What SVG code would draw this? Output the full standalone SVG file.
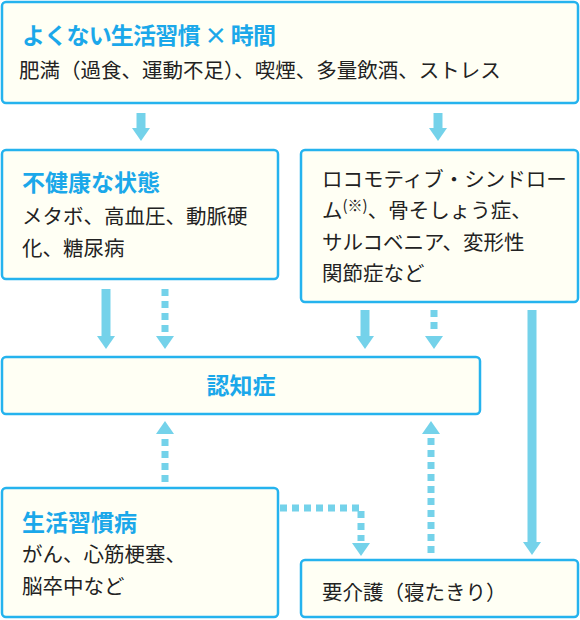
<svg xmlns="http://www.w3.org/2000/svg" width="580" height="620" viewBox="0 0 580 620">
<defs>
<style>
.box{fill:#fffff4;stroke:#25b3ee;stroke-width:2.5}
.ttl{font-family:"Noto Sans CJK JP","Noto Sans",sans-serif;font-weight:bold;font-size:23px;fill:#1ba8ea}
.txt{font-family:"Noto Sans CJK JP","Noto Sans",sans-serif;font-size:20.5px;fill:#222}
.sol{stroke:#74d2ea;stroke-width:9;fill:none}
.dot{stroke:#74d2ea;stroke-width:7;fill:none;stroke-dasharray:7 5}
.hd{fill:#74d2ea}
</style>
</defs>
<g id="top">
<rect class="box" x="2" y="2" width="576" height="101" rx="4"/>
<text class="ttl" x="22" y="44" textLength="254" lengthAdjust="spacing">よくない生活習慣 × 時間</text>
<text class="txt" x="19" y="78">肥満（過食、運動不足）、喫煙、多量飲酒、ストレス</text>
</g>
<g id="unhealthy">
<rect class="box" x="2" y="150" width="276" height="129" rx="4"/>
<text class="ttl" x="22" y="191">不健康な状態</text>
<text class="txt" x="22" y="224">メタボ、高血圧、動脈硬</text>
<text class="txt" x="22" y="256">化、糖尿病</text>
</g>
<g id="locomo">
<rect class="box" x="301" y="150" width="277" height="152" rx="4"/>
<text class="txt" x="322" y="187">ロコモティブ・シンドロー</text>
<text class="txt" x="322" y="218">ム<tspan font-size="15" dy="-7">(※)</tspan><tspan dy="7">、骨そしょう症、</tspan></text>
<text class="txt" x="322" y="250">サルコベニア、変形性</text>
<text class="txt" x="322" y="281">関節症など</text>
</g>
<g id="dementia">
<rect class="box" x="2" y="357" width="478" height="57" rx="4"/>
<text class="ttl" x="241" y="394" text-anchor="middle">認知症</text>
</g>
<g id="lifestyle">
<rect class="box" x="2" y="488" width="276" height="129" rx="4"/>
<text class="ttl" x="22" y="531">生活習慣病</text>
<text class="txt" x="22" y="562">がん、心筋梗塞、</text>
<text class="txt" x="22" y="594">脳卒中など</text>
</g>
<g id="care">
<rect class="box" x="301" y="560" width="277" height="57" rx="4"/>
<text class="txt" x="322" y="600">要介護（寝たきり）</text>
</g>
<g id="connectors">
<line class="sol" x1="141" y1="113" x2="141" y2="129"/>
<polygon class="hd" points="132,128 150,128 141,141"/>
<line class="sol" x1="438" y1="113" x2="438" y2="129"/>
<polygon class="hd" points="429,128 447,128 438,141"/>
<line class="sol" x1="106" y1="289" x2="106" y2="337"/>
<polygon class="hd" points="97,336 115,336 106,349"/>
<line class="dot" x1="165" y1="289" x2="165" y2="334"/>
<polygon class="hd" points="156,336 174,336 165,349"/>
<line class="sol" x1="365" y1="310" x2="365" y2="337"/>
<polygon class="hd" points="356,336 374,336 365,349"/>
<line class="dot" x1="434" y1="310" x2="434" y2="334"/>
<polygon class="hd" points="425,336 443,336 434,349"/>
<line class="sol" x1="532" y1="310" x2="532" y2="543"/>
<polygon class="hd" points="523,542 541,542 532,555"/>
<line class="dot" x1="165" y1="482" x2="165" y2="435"/>
<polygon class="hd" points="156,434 174,434 165,421"/>
<line class="dot" x1="431" y1="553" x2="431" y2="435"/>
<polygon class="hd" points="422,434 440,434 431,421"/>
<polyline class="dot" points="280,508 361,508 361,541"/>
<polygon class="hd" points="352,543 370,543 361,556"/>
</g>
</svg>
